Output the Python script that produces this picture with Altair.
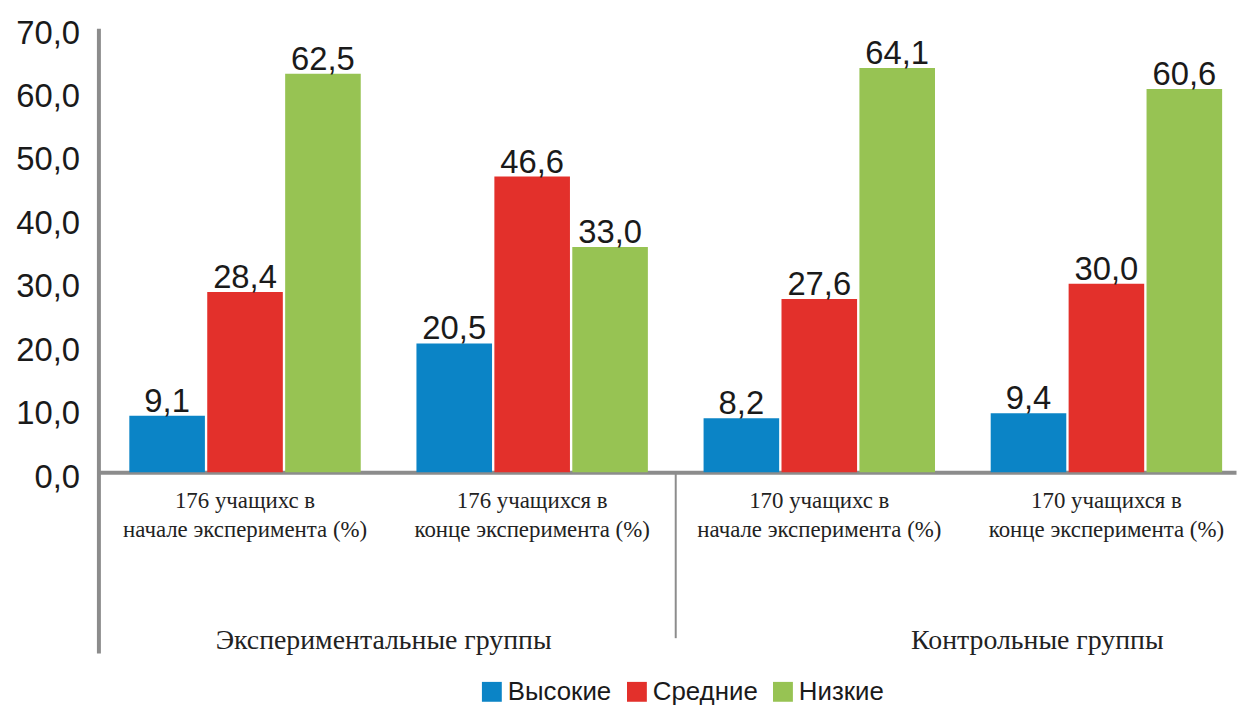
import altair as alt
import pandas as pd

categories = [
    "176 учащихс в|начале эксперимента (%)",
    "176 учащихся в|конце эксперимента (%)",
    "170 учащихс в|начале эксперимента (%)",
    "170 учащихся в|конце эксперимента (%)",
]
series = ["Высокие", "Средние", "Низкие"]
high_vals = [8.9, 20.3, 8.5, 9.3]
mid_vals = [28.4, 46.6, 27.3, 29.7]
low_vals = [62.8, 35.5, 63.7, 60.4]
high_labels = ["9,1", "20,5", "8,2", "9,4"]
mid_labels = ["28,4", "46,6", "27,6", "30,0"]
low_labels = ["62,5", "33,0", "64,1", "60,6"]
groups = ["Экспериментальные группы", "Контрольные группы"]
colors = ["#0b84c6", "#e3302b", "#97c353"]
y_ticks = [0, 10, 20, 30, 40, 50, 60, 70]

rows = []
for s, vals, labs in zip(series, [high_vals, mid_vals, low_vals],
                         [high_labels, mid_labels, low_labels]):
    for c, v, l in zip(categories, vals, labs):
        rows.append({"cat": c, "series": s, "value": v, "label": l})
df = pd.DataFrame(rows)

W, H = 1145, 629
PI, PO, ALIGN = 0.194, 0.078, 0.69
STEP = W / (len(categories) - PI + 2 * PO)
HALF_GAP = STEP * PI / 2  # offset from a band's end to the middle of the gap

xscale = alt.Scale(domain=categories, paddingInner=PI, paddingOuter=PO, align=ALIGN)
yscale = alt.Scale(domain=[-28.5, 70], nice=False, zero=False)
GRAY = "#8c8c8c"

x_enc = alt.X(
    "cat:N", sort=categories, scale=xscale, title=None,
    axis=alt.Axis(
        orient="bottom", offset=-182, ticks=False, domainColor=GRAY, domainWidth=4,
        labelExpr="split(datum.label, '|')", labelFont="Liberation Serif",
        labelFontSize=23, labelLineHeight=30, labelPadding=17, labelAngle=0,
        labelLimit=0, labelColor="#222222", labelBound=False, labelOverlap=False,
    ),
)
xoff = alt.XOffset("series:N", sort=series, scale=alt.Scale(domain=series, paddingInner=0.03))

bars = alt.Chart(df).mark_bar().encode(
    x=x_enc,
    xOffset=xoff,
    y=alt.Y(
        "value:Q", scale=yscale, title=None,
        axis=alt.Axis(
            values=y_ticks, grid=False, ticks=False, domainColor=GRAY, domainWidth=4,
            labelExpr="replace(format(datum.value, '.1f'), '.', ',')",
            labelFont="Liberation Sans", labelFontSize=33, labelPadding=19,
            labelOffset=5, labelColor="#1a1a1a",
        ),
    ),
    color=alt.Color(
        "series:N", sort=series, scale=alt.Scale(domain=series, range=colors),
        legend=alt.Legend(
            orient="none", legendX=383, legendY=655, direction="horizontal",
            title=None, symbolType="square", symbolSize=400, symbolStrokeWidth=0,
            symbolOpacity=1, labelFont="Liberation Sans", labelFontSize=26,
            labelColor="#1a1a1a", columnPadding=12, labelOffset=3,
        ),
    ),
)

labels = alt.Chart(df).mark_text(
    baseline="alphabetic", dy=-4, font="Liberation Sans", fontSize=33, color="#1a1a1a"
).encode(
    x=alt.X("cat:N", sort=categories, scale=xscale),
    xOffset=xoff,
    y=alt.Y("value:Q", scale=yscale),
    text="label:N",
)

sep_df = pd.DataFrame({"cat": [categories[1]]})
separator = alt.Chart(sep_df).mark_rule(color=GRAY, strokeWidth=2, xOffset=HALF_GAP).encode(
    x=alt.X("cat:N", scale=xscale, bandPosition=1),
    y=alt.value(447),
    y2=alt.value(614),
)

g1 = alt.Chart(pd.DataFrame({"cat": [categories[0]], "g": [groups[0]]})).mark_text(
    font="Liberation Serif", fontSize=28, color="#222222", baseline="middle", dx=HALF_GAP - 5
).encode(x=alt.X("cat:N", scale=xscale, bandPosition=1), y=alt.value(617), text="g:N")

g2 = alt.Chart(pd.DataFrame({"cat": [categories[2]], "g": [groups[1]]})).mark_text(
    font="Liberation Serif", fontSize=28, color="#222222", baseline="middle", dx=HALF_GAP + 75
).encode(x=alt.X("cat:N", scale=xscale, bandPosition=1), y=alt.value(617), text="g:N")

chart = alt.layer(bars, labels, separator, g1, g2).properties(
    width=W, height=H,
    autosize=alt.AutoSizeParams(type="none"),
    padding={"left": 91, "top": 18, "right": 2, "bottom": 53},
    background="white",
).configure_view(stroke=None)

chart.save("out.html", embed_options={"renderer": "svg", "actions": False})
